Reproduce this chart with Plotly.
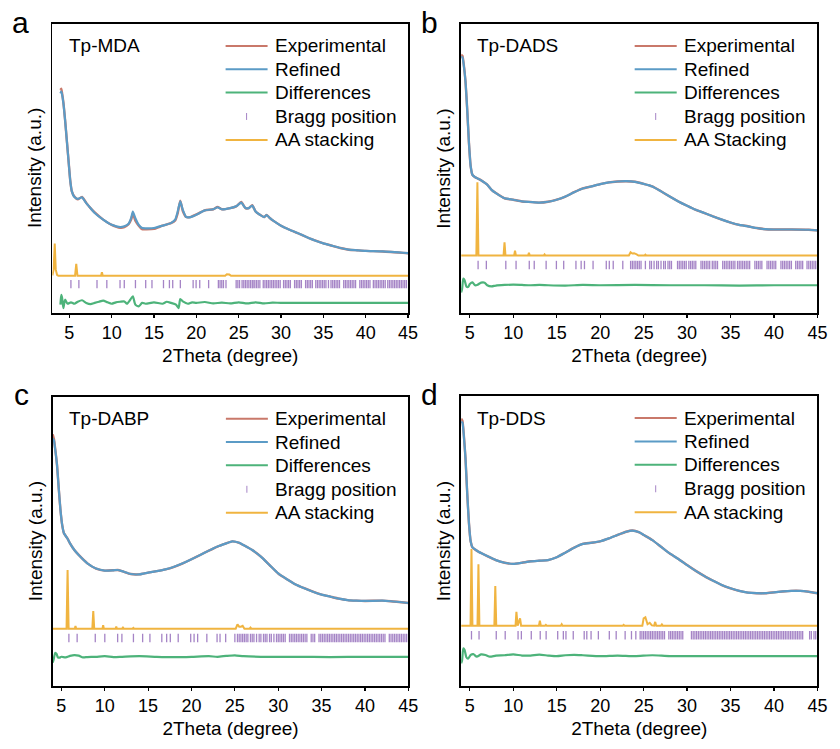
import plotly.graph_objects as go

# ---------------- Data ----------------
# Panel a : Tp-MDA
x_a = [3.95, 4.05, 4.15, 4.3, 4.5, 4.7, 4.9, 5.1, 5.3, 5.6, 6.0, 6.5, 7.0, 7.5, 8, 9, 10, 11, 11.5, 12,
       12.3, 12.5, 12.8, 13.2, 13.6, 14, 15, 16, 17, 17.5, 17.8, 18.1, 18.4, 18.8, 19.3, 20, 21, 22, 22.5, 23,
       24, 24.7, 25.3, 25.8, 26.2, 26.6, 27.0, 27.5, 28.0, 28.3, 28.7, 29.2, 30, 31, 32, 33, 34, 35, 36, 37,
       38, 39, 40, 42, 45]
ref_a = [76.0, 76.6, 75.5, 72.6, 66.8, 59.9, 53.0, 46.1, 42.1, 40.1, 39.5, 40.0, 38.0, 36.3, 34.6, 32.3, 30.5, 29.7, 30.0, 30.9,
         32.8, 35.1, 32.8, 30.5, 29.4, 29.3, 29.4, 30.2, 31.1, 32.3, 35.1, 38.6, 35.7, 33.2, 33.2, 34.0, 35.5, 35.9, 36.6, 35.9,
         36.3, 36.9, 38.2, 36.3, 36.3, 37.2, 35.1, 34.0, 33.2, 33.9, 32.8, 31.7, 30.2, 28.8, 27.6, 26.3, 25.1, 24.1, 23.3, 22.5,
         21.9, 21.7, 21.5, 21.3, 20.7]
exp_a = [77.2, 77.6, 76.0, 72.9, 66.8, 59.9, 53.0, 46.1, 42.1, 40.3, 39.3, 40.2, 38.1, 36.3, 34.8, 32.3, 30.5, 29.5, 29.7, 30.7,
         32.3, 34.4, 31.9, 30.2, 29.0, 29.0, 29.1, 30.2, 31.1, 32.0, 34.5, 38.9, 35.3, 33.2, 33.2, 34.1, 35.5, 35.9, 36.7, 35.9,
         36.3, 36.9, 38.4, 36.3, 36.3, 37.3, 35.1, 34.0, 33.2, 33.9, 32.8, 31.7, 30.2, 28.8, 27.6, 26.3, 25.1, 24.1, 23.3, 22.5,
         21.9, 21.7, 21.5, 21.3, 20.7]
xd_a = [3.95, 4.05, 4.15, 4.3, 4.5, 4.8, 5.2, 5.6, 6.0, 6.5, 7, 7.5, 8, 8.5, 9, 9.5, 10, 10.5, 11, 11.5, 11.8, 12.2, 12.5,
        12.8, 13.2, 13.6, 14, 15, 16, 16.5, 17, 17.6, 17.9, 18.1, 18.4, 19, 19.5, 20, 21, 22, 23, 24, 25, 26, 27,
        28, 29, 30, 45]
diff_a = [2.9, 6.3, 5.2, 1.7, 4.6, 3.2, 3.7, 3.2, 3.9, 4.4, 3.5, 3.1, 3.5, 3.9, 4.3, 3.7, 3.2, 3.7, 3.9, 4.0, 3.2, 4.6, 5.8,
          2.9, 2.3, 3.5, 3.2, 3.7, 3.2, 3.9, 3.5, 2.9, 1.7, 4.8, 4.0, 3.2, 3.7, 3.5, 3.8, 3.3, 3.6, 3.3, 3.7, 3.3, 3.7,
          3.3, 3.6, 3.5, 3.5]
xaa_a = [3.0, 3.15, 3.28, 3.4, 3.55, 3.7, 5.68, 5.82, 5.96, 8.75, 8.85, 8.95, 23.4, 23.6, 23.9, 24.1, 45]
aa_a = [13.0, 15.0, 24.0, 15.0, 13.2, 12.9, 12.9, 17.0, 12.9, 12.9, 14.1, 12.9, 12.9, 13.4, 13.3, 12.9, 12.9]
bragg_a = [5.19, 6.13, 8.27, 9.43, 10.99, 11.49, 12.81, 14.02, 14.76, 16.12, 16.82, 17.21, 18.11, 19.62, 19.97, 20.40, 21.45,
           22.6, 22.8, 23.0, 23.2, 23.5, 24.7, 24.9, 25.1, 25.4, 25.6, 25.8, 26.0, 26.2, 26.4, 26.6, 26.7, 26.9, 27.1,
           27.3, 27.5, 27.9, 28.1, 28.3, 28.5, 28.7, 28.9, 29.1, 29.3, 29.5, 29.7, 29.9, 30.3, 30.5, 30.7, 30.9, 31.1,
           31.6, 31.8, 32.0, 32.2, 32.4, 32.9, 33.1, 33.3, 33.5, 33.7, 34.1, 34.3, 34.5, 34.7, 34.9, 35.1, 35.3, 35.6,
           35.9, 36.1, 36.3, 36.5, 36.7, 36.9, 37.4, 37.6, 37.8, 38.0, 38.2, 38.4, 38.6, 38.8, 39.3, 39.5, 39.7, 39.9,
           40.1, 40.3, 40.5, 40.9, 41.1, 41.3, 41.5, 41.7, 41.9, 42.1, 42.3, 42.6, 42.8, 43.0, 43.2, 43.4, 43.6, 43.8,
           44.0, 44.2, 44.4, 44.6, 44.8]
bragg_y_a = 10.0

# Panel b : Tp-DADS
x_b = [4.0, 4.15, 4.3, 4.5, 4.7, 4.9, 5.1, 5.3, 5.6, 6.0, 6.5, 7.0, 7.5, 8, 9, 10, 11, 12, 13, 14, 15, 16, 17, 18, 19,
       20, 21, 22, 23, 24, 25, 26, 27, 28, 29, 30, 31, 32, 33, 34, 35, 36, 37, 38, 39, 40, 42, 44, 45]
ref_b = [88.5, 88.5, 85.8, 80.1, 70.3, 58.8, 50.7, 47.8, 47.0, 46.4, 45.5, 44.4, 42.6, 41.5, 39.7, 39.2, 38.6, 38.4, 38.2,
         38.5, 39.2, 40.3, 41.8, 43.1, 43.8, 44.6, 45.2, 45.5, 45.6, 45.4, 44.7, 43.8, 42.1, 40.3, 38.6, 37.1, 35.7, 34.6,
         33.4, 32.3, 31.3, 30.5, 30.0, 29.4, 29.0, 28.9, 28.9, 28.8, 28.6]
exp_b = [89.4, 89.0, 86.0, 80.1, 70.3, 58.8, 50.7, 47.8, 47.0, 46.4, 45.5, 44.4, 42.6, 41.5, 39.7, 39.2, 38.6, 38.4, 38.2,
         38.5, 39.2, 40.3, 41.8, 43.1, 43.8, 44.6, 45.2, 45.5, 45.6, 45.4, 44.7, 43.8, 42.1, 40.3, 38.6, 37.1, 35.7, 34.6,
         33.4, 32.3, 31.3, 30.5, 30.0, 29.4, 29.0, 28.9, 28.9, 28.8, 28.6]
xd_b = [4.0, 4.1, 4.25, 4.4, 4.6, 4.8, 5.0, 5.3, 5.6, 5.9, 6.3, 6.7, 7.0, 7.5, 8, 9, 10, 11, 12, 13, 14, 16, 18, 20, 24,
        28, 32, 36, 40, 45]
diff_b = [7.1, 8.2, 11.9, 11.3, 9.2, 9.0, 10.0, 10.6, 9.6, 9.8, 10.5, 10.5, 9.6, 9.2, 9.5, 9.7, 9.8, 9.7, 9.6, 9.7, 9.6,
          9.5, 9.7, 9.6, 9.7, 9.6, 9.6, 9.5, 9.6, 9.6]
xaa_b = [4.0, 5.75, 5.87, 5.99, 8.88, 8.99, 9.1, 10.1, 10.2, 10.3, 11.7, 11.8, 11.9, 13.5, 13.6, 13.7, 23.3, 23.5, 23.7,
         23.9, 24.2, 24.4, 25.1, 25.2, 25.3, 45]
aa_b = [19.9, 19.9, 45.2, 19.9, 19.9, 24.5, 19.9, 19.9, 21.6, 19.9, 19.9, 20.8, 19.9, 19.9, 20.3, 19.9, 19.9, 21.0, 20.6,
        20.7, 20.3, 19.9, 19.9, 20.2, 19.9, 19.9]
bragg_b = [5.95, 6.90, 9.14, 10.32, 11.84, 12.41, 13.78, 14.96, 15.80, 17.21, 17.81, 18.19, 19.18, 20.70, 21.05, 21.50,
           22.60, 23.5, 23.7, 23.9, 24.1, 24.3, 24.5, 24.7, 25.2, 25.7, 25.9, 26.2, 26.5, 26.7, 27.0, 27.3, 27.5, 27.8,
           28.0, 28.2, 28.9, 29.1, 29.3, 29.5, 29.7, 29.9, 30.2, 30.4, 30.6, 30.8, 31.0, 31.6, 31.8, 32.0, 32.2, 32.4,
           32.6, 32.9, 33.1, 33.3, 33.5, 34.1, 34.3, 34.5, 34.7, 34.9, 35.1, 35.3, 35.5, 35.8, 36.0, 36.2, 36.4, 36.6,
           36.8, 37.0, 37.2, 37.8, 38.0, 38.2, 38.4, 38.6, 39.2, 39.4, 39.6, 39.8, 40.0, 40.2, 40.8, 41.0, 41.2, 41.4,
           41.6, 41.8, 42.0, 42.5, 42.7, 42.9, 43.1, 43.3, 43.8, 44.0, 44.2, 44.4, 44.6, 44.8]
bragg_y_b = 16.6

# Panel c : Tp-DABP
x_c = [4.0, 4.15, 4.3, 4.5, 4.7, 4.9, 5.1, 5.3, 5.7, 6.0, 6.5, 7, 8, 9, 10, 11, 11.5, 12, 13, 14, 15, 16, 17, 18, 19,
       20, 21, 22, 23, 24, 24.7, 25.5, 26, 27, 28, 29, 30, 31, 32, 33, 34, 35, 36, 37, 38, 39, 40, 42, 43, 45]
ref_c = [85.6, 84.8, 81.6, 76.4, 68.3, 60.8, 55.6, 52.8, 51.0, 49.3, 47.0, 45.3, 42.4, 40.6, 39.9, 40.0, 40.1, 39.7, 38.7,
         38.6, 39.2, 39.7, 40.3, 41.2, 42.4, 43.8, 45.3, 46.8, 48.2, 49.3, 50.0, 49.5, 48.7, 47.0, 44.7, 41.8, 38.9, 36.9,
         35.1, 33.8, 32.6, 31.6, 30.9, 30.2, 29.7, 29.5, 29.4, 29.5, 29.3, 28.7]
exp_c = [87.0, 85.3, 81.8, 76.4, 68.3, 60.8, 55.6, 52.8, 51.0, 49.3, 47.0, 45.3, 42.4, 40.6, 39.9, 40.0, 40.1, 39.7, 38.7,
         38.6, 39.2, 39.7, 40.3, 41.2, 42.4, 43.8, 45.3, 46.8, 48.2, 49.3, 50.0, 49.5, 48.7, 47.0, 44.7, 41.8, 38.9, 36.9,
         35.1, 33.8, 32.6, 31.6, 30.9, 30.2, 29.7, 29.5, 29.4, 29.5, 29.3, 28.7]
xd_c = [4.0, 4.1, 4.3, 4.45, 4.6, 4.8, 5.0, 5.5, 6.0, 6.5, 7.0, 7.5, 8, 9, 10, 11, 12, 14, 16, 18, 20, 22, 23, 24, 25, 26,
        28, 32, 36, 40, 45]
diff_c = [8.1, 9.0, 11.5, 11.1, 9.9, 9.8, 10.1, 9.9, 10.4, 10.7, 10.5, 9.9, 10.0, 10.1, 10.3, 10.0, 10.1, 10.3, 10.1, 10.0,
          10.1, 10.3, 10.1, 10.4, 10.6, 10.3, 10.1, 10.1, 10.0, 10.1, 10.1]
xaa_c = [4.0, 5.6, 5.72, 5.84, 6.55, 6.63, 6.71, 8.57, 8.68, 8.79, 9.74, 9.82, 9.9, 11.25, 11.33, 11.41, 12.0, 12.1, 12.2,
         13.2, 13.3, 13.4, 25.1, 25.3, 25.5, 25.7, 25.9, 26.1, 26.7, 26.8, 26.9, 45]
aa_c = [19.8, 19.8, 40.1, 19.8, 19.8, 20.7, 19.8, 19.8, 25.9, 19.8, 19.8, 21.0, 19.8, 19.8, 20.5, 19.8, 19.8, 20.2, 19.8,
        19.8, 20.1, 19.8, 19.8, 21.3, 20.5, 20.5, 20.8, 19.8, 19.8, 20.2, 19.8, 19.8]
bragg_c = [5.87, 6.82, 8.91, 10.01, 11.49, 11.98, 13.31, 14.37, 15.21, 16.58, 17.14, 17.56, 18.47, 19.91, 20.30, 20.71,
           21.77, 22.95, 23.29, 23.94, 25.0, 25.3, 25.5, 25.7, 25.9, 26.1, 26.3, 26.5, 26.8, 27.0, 27.2, 27.5, 27.8,
           28.0, 28.3, 28.5, 28.7, 29.0, 29.2, 29.5, 29.8, 30.0, 30.2, 30.4, 30.6, 30.8, 31.3, 31.5, 31.7, 31.9, 32.1,
           32.3, 32.5, 32.7, 32.9, 33.1, 33.3, 33.8, 34.0, 34.2, 34.7, 34.9, 35.1, 35.3, 35.5, 35.7, 35.9, 36.1, 36.3,
           36.5, 36.7, 36.9, 37.1, 37.3, 37.5, 37.7, 37.9, 38.1, 38.3, 38.5, 38.7, 38.9, 39.1, 39.3, 39.5, 39.7, 39.9,
           40.1, 40.3, 40.5, 40.7, 40.9, 41.1, 41.3, 41.5, 41.7, 41.9, 42.1, 42.3, 42.8, 43.0, 43.2, 43.4, 43.6, 43.8,
           44.0, 44.2, 44.4, 44.6, 44.8]
bragg_y_c = 16.6

# Panel d : Tp-DDS
x_d = [4.0, 4.15, 4.3, 4.5, 4.7, 4.9, 5.1, 5.3, 5.6, 6.0, 7, 8, 9, 10, 11, 12, 13, 14, 15, 16, 17, 18, 19, 20, 21, 22,
       23, 23.7, 24.5, 25, 26, 27, 28, 29, 30, 31, 32, 33, 34, 35, 36, 37, 38, 39, 40, 41, 42, 43, 44, 45]
ref_d = [91.1, 90.8, 86.6, 78.5, 66.4, 56.1, 49.8, 47.8, 47.1, 46.3, 44.8, 43.4, 42.5, 42.1, 42.5, 43.0, 43.2, 43.4, 44.4,
         46.0, 47.7, 49.0, 49.4, 49.9, 50.9, 52.1, 53.2, 53.6, 53.0, 52.1, 50.3, 48.0, 45.7, 43.8, 41.7, 39.7, 37.9, 36.3,
         34.8, 33.7, 32.8, 32.2, 32.0, 32.0, 32.3, 32.6, 32.8, 32.8, 32.5, 32.0]
exp_d = [92.2, 91.4, 86.9, 78.5, 66.4, 56.1, 49.8, 47.8, 47.1, 46.3, 44.8, 43.4, 42.5, 42.1, 42.5, 43.0, 43.2, 43.4, 44.4,
         46.0, 47.7, 49.0, 49.4, 49.9, 50.9, 52.1, 53.2, 53.6, 53.0, 52.1, 50.3, 48.0, 45.7, 43.8, 41.7, 39.7, 37.9, 36.3,
         34.8, 33.7, 32.8, 32.2, 32.0, 32.0, 32.3, 32.6, 32.8, 32.8, 32.5, 32.0]
xd_d = [4.0, 4.1, 4.25, 4.4, 4.6, 4.8, 5.1, 5.4, 5.8, 6.3, 6.8, 7.3, 8, 9, 10, 11, 12, 13, 14, 15, 16, 17, 18, 20, 22, 24,
        26, 28, 32, 36, 40, 45]
diff_d = [7.8, 8.7, 13.0, 12.4, 9.9, 9.4, 10.7, 11.0, 10.1, 10.9, 10.7, 10.1, 10.5, 10.6, 10.9, 10.5, 10.5, 10.8, 10.5,
          10.3, 10.6, 10.7, 10.6, 10.3, 10.5, 10.3, 10.6, 10.3, 10.3, 10.3, 10.3, 10.3]
xaa_d = [4.0, 5.08, 5.19, 5.3, 5.88, 5.99, 6.1, 7.82, 7.93, 8.04, 10.26, 10.36, 10.5, 10.78, 10.9, 12.95, 13.06, 13.17,
         13.65, 13.75, 13.85, 15.47, 15.57, 15.67, 22.6, 22.7, 22.8, 24.85, 25.0, 25.2, 25.45, 25.7, 25.95, 26.2, 26.33,
         26.45, 27.0, 27.1, 27.2, 45]
aa_d = [20.8, 20.8, 47.2, 20.8, 20.8, 42.0, 20.8, 20.8, 34.5, 20.8, 20.8, 25.6, 20.8, 23.3, 20.8, 20.8, 22.5, 20.8, 20.8,
        21.1, 20.8, 20.8, 21.3, 20.8, 20.8, 21.1, 20.8, 20.8, 23.3, 23.7, 21.3, 21.8, 20.9, 20.8, 22.1, 20.8, 20.8, 21.2,
        20.8, 20.8]
bragg_d = [5.19, 6.06, 8.04, 9.07, 10.55, 10.93, 12.07, 13.10, 13.78, 15.11, 15.76, 16.06, 16.90, 18.16, 18.46, 18.95,
           19.79, 21.05, 21.84, 22.87, 23.6, 24.1, 24.6, 24.8, 25.0, 25.2, 25.4, 25.6, 25.8, 26.0, 26.2, 26.4, 26.6,
           26.8, 27.0, 27.2, 27.4, 27.9, 28.1, 28.3, 28.5, 28.7, 28.9, 29.1, 29.3, 29.5, 30.5, 30.7, 30.9, 31.1, 31.3,
           31.5, 31.7, 31.9, 32.1, 32.3, 32.5, 32.7, 32.9, 33.1, 33.3, 33.5, 33.7, 33.9, 34.1, 34.3, 34.5, 34.7, 34.9,
           35.1, 35.3, 35.5, 35.7, 35.9, 36.1, 36.3, 36.5, 36.7, 36.9, 37.1, 37.3, 37.5, 37.7, 37.9, 38.1, 38.3, 38.5,
           38.7, 38.9, 39.1, 39.3, 39.5, 39.7, 39.9, 40.1, 40.3, 40.5, 40.7, 40.9, 41.1, 41.3, 41.5, 41.7, 41.9, 42.1,
           42.3, 42.5, 42.7, 42.9, 43.1, 43.3, 44.1, 44.3, 44.6, 44.8]
bragg_y_d = 17.5

names = ["Tp-MDA", "Tp-DADS", "Tp-DABP", "Tp-DDS"]
letters = ["a", "b", "c", "d"]
x_ranges = [[3, 45], [4, 45], [4, 45], [4, 45]]
legend_labels = [
    ["Experimental", "Refined", "Differences", "Bragg position", "AA stacking"],
    ["Experimental", "Refined", "Differences", "Bragg position", "AA Stacking"],
    ["Experimental", "Refined", "Differences", "Bragg position", "AA stacking"],
    ["Experimental", "Refined", "Differences", "Bragg position", "AA stacking"],
]
x_ticks = [5, 10, 15, 20, 25, 30, 35, 40, 45]

# ---------------- Style ----------------
C_EXP = "#C9786A"
C_REF = "#5B9BC6"
C_DIF = "#4DB37A"
C_AA = "#F0B440"
C_BRG = "#A584C6"
FONT = "Liberation Sans, Arial, sans-serif"
W, H = 840, 749

# pixel boxes of each plot area: (left, right, top, bottom)
boxes = [(53, 413, 24, 313), (466.7, 827.3, 24, 313), (53.3, 413.3, 396.7, 686), (466.7, 827.3, 396, 686)]

panels = [
    (x_a, exp_a, ref_a, xd_a, diff_a, xaa_a, aa_a, bragg_a, bragg_y_a),
    (x_b, exp_b, ref_b, xd_b, diff_b, xaa_b, aa_b, bragg_b, bragg_y_b),
    (x_c, exp_c, ref_c, xd_c, diff_c, xaa_c, aa_c, bragg_c, bragg_y_c),
    (x_d, exp_d, ref_d, xd_d, diff_d, xaa_d, aa_d, bragg_d, bragg_y_d),
]

fig = go.Figure()
annotations = []
shapes = []

for i, (xx, ex, rf, xd, df, xaa, aa, br, bry) in enumerate(panels):
    n = "" if i == 0 else str(i + 1)
    xa, ya = "x" + n, "y" + n
    common = dict(xaxis=xa, yaxis=ya, mode="lines", showlegend=False, hoverinfo="skip")
    fig.add_trace(go.Scatter(x=xaa, y=aa, line=dict(color=C_AA, width=2), **common))
    fig.add_trace(go.Scatter(x=br, y=[bry] * len(br), xaxis=xa, yaxis=ya, mode="markers", showlegend=False,
                             hoverinfo="skip",
                             marker=dict(symbol="line-ns", size=6, line=dict(color=C_BRG, width=1.3))))
    fig.add_trace(go.Scatter(x=xd, y=df, line=dict(color=C_DIF, width=2.2, shape="spline", smoothing=0.6), **common))
    fig.add_trace(go.Scatter(x=xx, y=ex, line=dict(color=C_EXP, width=2.4, shape="spline", smoothing=0.5), **common))
    fig.add_trace(go.Scatter(x=xx, y=rf, line=dict(color=C_REF, width=2.2, shape="spline", smoothing=0.5), **common))

    l, r, t, b = boxes[i]
    fig.layout["xaxis" + n] = dict(
        domain=[l / W, r / W], range=x_ranges[i], anchor=ya,
        tickvals=x_ticks, ticktext=[str(v) for v in x_ticks],
        ticks="outside", ticklen=3, tickwidth=1.2, tickcolor="black",
        showline=True, linecolor="black", linewidth=1.7, mirror=True,
        showgrid=False, zeroline=False,
        tickfont=dict(family=FONT, size=18, color="black"),
        title=dict(text="2Theta (degree)", font=dict(family=FONT, size=19, color="black"), standoff=6),
    )
    fig.layout["yaxis" + n] = dict(
        domain=[1 - b / H, 1 - t / H], range=[0, 100], anchor=xa,
        showticklabels=False, ticks="", showline=True, linecolor="black", linewidth=1.7, mirror=True,
        showgrid=False, zeroline=False,
    )
    dx = xa + " domain"
    dy = ya + " domain"
    # y-axis title
    annotations.append(dict(text="Intensity (a.u.)", xref=dx, yref=dy, x=-18 / (r - l), y=0.5,
                            xanchor="center", yanchor="middle", textangle=-90, showarrow=False,
                            font=dict(family=FONT, size=19, color="black")))
    # sample name
    annotations.append(dict(text=names[i], xref=dx, yref=dy, x=0.040, y=0.924, xanchor="left", yanchor="middle",
                            showarrow=False, font=dict(family=FONT, size=19, color="black")))
    # panel letter
    annotations.append(dict(text=letters[i], xref="paper", yref="paper", x=(l - 32) / W, y=1 - (t - 2) / H,
                            xanchor="center", yanchor="middle", showarrow=False,
                            font=dict(family=FONT, size=30, color="black")))
    # legend
    rows = [0.924, 0.843, 0.763, 0.680, 0.599]
    cols = [C_EXP, C_REF, C_DIF, None, C_AA]
    for k, lab in enumerate(legend_labels[i]):
        yy = rows[k]
        if cols[k] is not None:
            shapes.append(dict(type="line", xref=dx, yref=dy, x0=0.487, x1=0.605, y0=yy, y1=yy,
                               line=dict(color=cols[k], width=2)))
        else:
            shapes.append(dict(type="line", xref=dx, yref=dy, x0=0.546, x1=0.546, y0=yy - 0.012, y1=yy + 0.012,
                               line=dict(color=C_BRG, width=1)))
        annotations.append(dict(text=lab, xref=dx, yref=dy, x=0.619, y=yy, xanchor="left", yanchor="middle",
                                showarrow=False, font=dict(family=FONT, size=19, color="black")))

fig.update_layout(
    width=W, height=H, margin=dict(l=0, r=0, t=0, b=0),
    paper_bgcolor="white", plot_bgcolor="white",
    annotations=annotations, shapes=shapes, showlegend=False,
)

fig.write_html("out.html", config={"displayModeBar": False, "staticPlot": True},
               post_script="document.body.style.margin='0px';document.body.style.overflow='hidden';")
